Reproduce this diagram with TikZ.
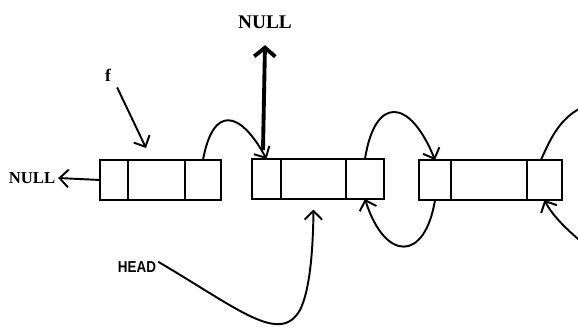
\documentclass[tikz,border=0pt]{standalone}
\usepackage{fontspec}
\setmainfont{Liberation Serif}
\setsansfont{Liberation Sans}
\usetikzlibrary{arrows.meta,positioning}

\begin{document}
\begin{tikzpicture}[x=0.02cm,y=-0.02cm,
  cell/.style={draw,line width=1.1pt,minimum height=0.8cm,inner sep=0pt,outer sep=0pt},
  link/.style={-{Straight Barb[length=5pt,width=10pt]},line width=1.1pt},
  lbl/.style={font=\bfseries\fontsize{11}{13}\selectfont}
]
\useasboundingbox (0,0) rectangle (578,327);

% three doubly linked nodes: prev | data | next
\node[cell,minimum width=0.56cm,anchor=west] (n1p) at (100,180) {};
\node[cell,minimum width=1.14cm,right=0pt of n1p] (n1d) {};
\node[cell,minimum width=0.72cm,right=0pt of n1d] (n1n) {};

\node[cell,minimum width=0.58cm,anchor=west] (n2p) at (252,179) {};
\node[cell,minimum width=1.30cm,right=0pt of n2p] (n2d) {};
\node[cell,minimum width=0.76cm,right=0pt of n2d] (n2n) {};

\node[cell,minimum width=0.64cm,anchor=west] (n3p) at (419,180) {};
\node[cell,minimum width=1.52cm,right=0pt of n3p] (n3d) {};
\node[cell,minimum width=0.70cm,right=0pt of n3d] (n3n) {};

% labels
\node[lbl] (nulltop) at (265,22) {NULL};
\node[lbl,inner sep=1pt,font=\bfseries\fontsize{9.5}{11}\selectfont] (nullleft) at (32,178) {NULL};
\node[font=\bfseries\fontsize{10}{12}\selectfont] (f) at (108,75) {f};
\node[inner sep=1pt,font=\sffamily\bfseries\fontsize{9}{11}\selectfont] (head) at (137,267) {\scalebox{0.85}[1]{HEAD}};

\coordinate (fptr) at (146,148);
\coordinate (out1) at (590,104);
\coordinate (in1) at (585,245);

% pointers
\draw[link] (n1p.west) -- ([xshift=0.5pt]nullleft.east);
\draw[-{Straight Barb[length=5pt,width=12pt]},line width=2.2pt]
  ([xshift=-2pt,yshift=5pt]n2p.north) -- ([yshift=-6pt]nulltop.south);
\draw[link] (f.south east) -- (fptr);

\draw[link] (n1n.north) .. controls (213,105) and (240,110) .. (n2p.north);
\draw[link] (n2n.north) .. controls (375,95) and (410,98) .. (n3p.north);
\draw[link] (n3p.south) .. controls (425,262) and (385,262) .. (n2n.south);
\draw[line width=1.1pt] ([xshift=-2pt]n3n.north) .. controls (552,135) and (562,114) .. (out1);
\draw[link] (in1) .. controls (565,228) and (552,215) .. (n3n.south);

\draw[link] ([yshift=3pt]head.east) .. controls (240,310) and (280,345) .. (300,310)
  .. controls (310,290) and (313,250) .. ([yshift=-6pt]n2d.south);
\end{tikzpicture}
\end{document}
